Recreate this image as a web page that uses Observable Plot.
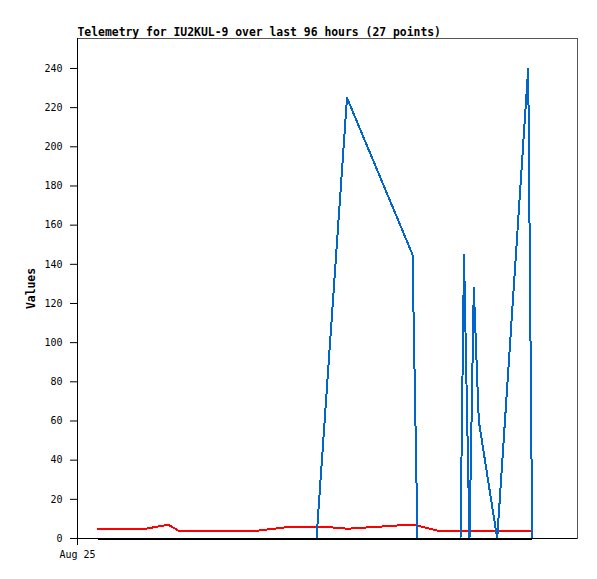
<!DOCTYPE html>
<html>
<head>
<meta charset="utf-8">
<script src="https://cdn.jsdelivr.net/npm/d3@7"></script>
<script src="https://cdn.jsdelivr.net/npm/@observablehq/plot@0.6"></script>
<style>
  body { margin: 0; background: #fff; }
  #chart svg { display: block; }
</style>
</head>
<body>
<div id="chart"></div>
<script>
// ---- data (hours since Aug 25 00:00) ----
const titleText = "Telemetry for IU2KUL-9 over last 96 hours (27 points)";
const yLabelText = "Values";
const xTickHours = [0];
const xTickLabels = ["Aug 25"];
const yTicks = [0, 20, 40, 60, 80, 100, 120, 140, 160, 180, 200, 220, 240];

const blueHours  = [4.0, 47.8, 53.9, 67.0, 68.0, 76.6, 77.3, 78.4, 79.26, 80.26, 83.94, 90.14, 90.84, 90.95];
const blueValues = [0,   0,    225,  145,  0,    0,    145,  0,    128,   60,    0,     240,   30,    0];

const redHours  = [4.0, 13.6, 18.2, 20.2, 36.0, 42.6, 49.2, 54.0, 66.2, 67.4, 72.0, 90.95];
const redValues = [5,   5,    7,    4,    4,    6,    6,    5,    7,    7,    4,    4];

const blackHours  = [4.0, 90.95];
const blackValues = [0, 0];

const toRows = (hs, vs) => hs.map((h, i) => ({h, v: vs[i]}));
const blue = toRows(blueHours, blueValues);
const red = toRows(redHours, redValues);
const black = toRows(blackHours, blackValues);

const font = "'DejaVu Sans Mono', 'Liberation Mono', monospace";

const chart = Plot.plot({
  width: 597,
  height: 579,
  marginLeft: 77,
  marginRight: 20,
  marginTop: 38,
  marginBottom: 41,
  style: {fontFamily: font, fontSize: "10px", color: "#000", background: "#fff"},
  x: {domain: [0, 100]},
  y: {domain: [0, 255.3]},
  marks: [
    Plot.frame({stroke: "#555"}),
    Plot.axisY({ticks: yTicks, tickSize: 7, tickPadding: 8, label: null, stroke: "#000"}),
    Plot.axisX({ticks: xTickHours, tickFormat: (d) => xTickLabels[xTickHours.indexOf(d)], tickSize: 7, tickPadding: 5, label: null, stroke: "#000"}),
    Plot.ruleX([0], {stroke: "#000"}),
    Plot.ruleY([0], {stroke: "#000"}),
    Plot.line(red, {x: "h", y: "v", stroke: "#ff0000", strokeWidth: 2, shapeRendering: "crispEdges"}),
    Plot.line(blue, {x: "h", y: "v", stroke: "#0066cc", strokeWidth: 2, shapeRendering: "crispEdges"}),
    Plot.line(black, {x: "h", y: "v", stroke: "#000", strokeWidth: 2, shapeRendering: "crispEdges"}),
    Plot.text([titleText], {frameAnchor: "top-left", textAnchor: "start", lineAnchor: "bottom", dy: -3, fontWeight: "bold", fontSize: 11.4}),
    Plot.text([yLabelText], {frameAnchor: "left", dx: -46, rotate: -90, textAnchor: "middle", lineAnchor: "middle", fontWeight: "bold", fontSize: 11.4})
  ]
});
document.getElementById("chart").appendChild(chart);
</script>
</body>
</html>
